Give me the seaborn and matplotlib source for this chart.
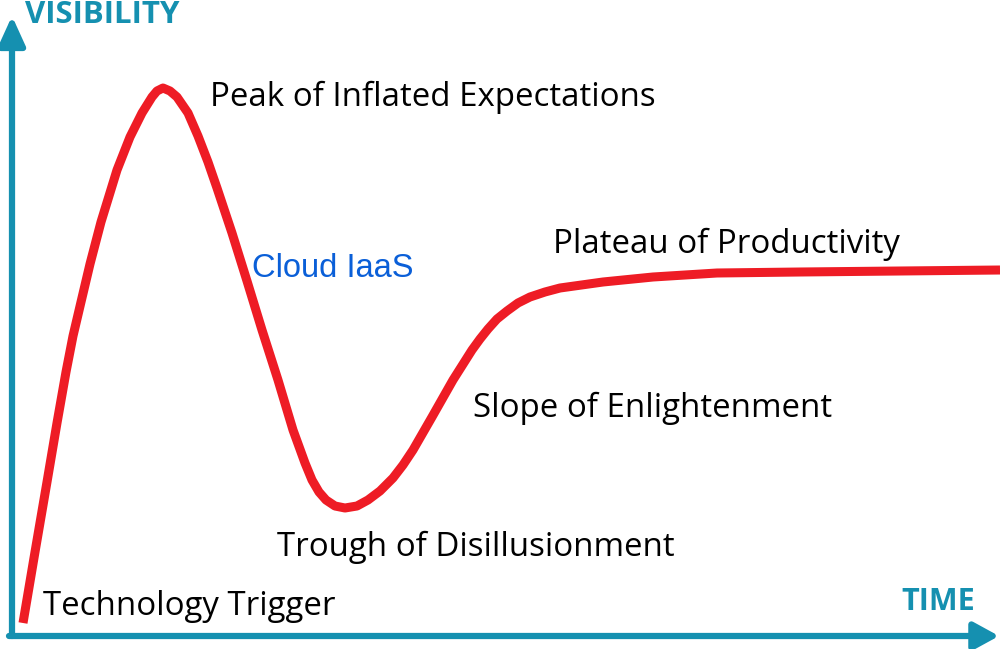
import matplotlib
matplotlib.use("Agg")
import matplotlib.pyplot as plt
import seaborn as sns
import pandas as pd

# Curve (x = time, y = pixel-like visibility, top = 0)
time_x = [23, 35, 47, 57, 66, 73, 81, 90, 101, 117, 130, 142, 152, 157, 163,
          170, 177, 188, 198, 208, 217, 232, 247, 262, 278, 293, 305, 312, 319,
          326, 335, 345, 357, 368, 380, 393, 403, 413, 432, 453, 472, 480, 488,
          497, 507, 518, 530, 545, 560, 603, 653, 717, 800, 900, 1000]
visibility_y = [623, 552, 482, 423, 372, 336, 302, 264, 222, 170, 137, 113, 97,
                91, 88, 91, 97, 113, 136, 162, 188, 233, 281, 330, 380, 430, 463,
                480, 492, 500, 506, 508, 506, 500, 491, 478, 465, 450, 417, 380,
                350, 339, 329, 319, 311, 303, 297, 292, 288, 282, 277, 273, 272,
                271, 270]

phase_labels = ["Technology Trigger", "Peak of Inflated Expectations",
                "Trough of Disillusionment", "Slope of Enlightenment",
                "Plateau of Productivity"]
phase_x = [43, 210, 277, 473, 553]
phase_y = [615, 106, 556, 417, 253]

item_label = "Cloud IaaS"
axis_labels = ["VISIBILITY", "TIME"]

TEAL = "#1590b0"
RED = "#ee1c25"
BLUE = "#0a5fd8"

sns.set_theme(style="white")
fig = plt.figure(figsize=(10, 6.49), dpi=100)
ax = fig.add_axes([0, 0, 1, 1])
ax.set_xlim(0, 1000)
ax.set_ylim(649, 0)
ax.axis("off")

df = pd.DataFrame({"time": time_x, "visibility": visibility_y})
sns.lineplot(data=df, x="time", y="visibility", sort=False, color=RED,
             linewidth=6.5, ax=ax, legend=False)
for ln in ax.get_lines():
    ln.set_solid_capstyle("butt")
    ln.set_solid_joinstyle("round")

# axes arrows
ax.annotate("", xy=(12, 16), xytext=(12, 636),
            arrowprops=dict(arrowstyle="-|>,head_length=1.1,head_width=0.5",
                            color=TEAL, lw=4.5, shrinkA=0, shrinkB=0,
                            mutation_scale=16))
ax.annotate("", xy=(999, 636), xytext=(9, 636),
            arrowprops=dict(arrowstyle="-|>,head_length=0.95,head_width=0.52",
                            color=TEAL, lw=4.5, shrinkA=0, shrinkB=0,
                            mutation_scale=16))

ax.text(25, 23, axis_labels[0], color=TEAL, fontsize=22.5, fontweight="bold",
        family="Open Sans", va="baseline", ha="left")
ax.text(975, 610, axis_labels[1], color=TEAL, fontsize=22, fontweight="bold",
        family="Open Sans", va="baseline", ha="right")

for lab, x, y in zip(phase_labels, phase_x, phase_y):
    ax.text(x, y, lab, color="black", fontsize=23.8, family="Open Sans",
            va="baseline", ha="left")

ax.text(252, 277, item_label, color=BLUE, fontsize=23.5, family="Liberation Sans",
        va="baseline", ha="left")

fig.savefig("out.png", dpi=100)
